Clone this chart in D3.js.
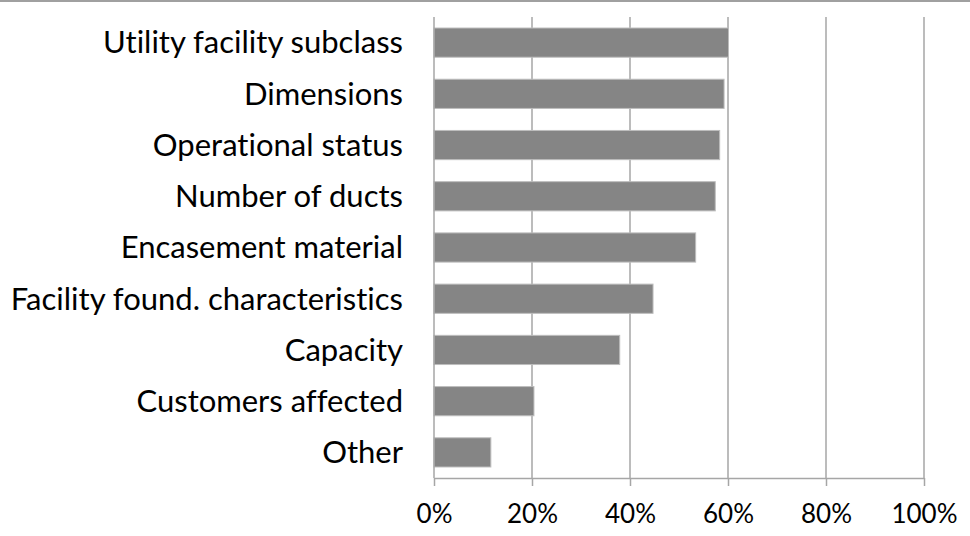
<!DOCTYPE html>
<html>
<head>
<meta charset="utf-8">
<script src="https://cdn.jsdelivr.net/npm/d3@7"></script>
<style>
  body { margin: 0; background: #fff; }
  svg text { font-family: Lato, "Open Sans", sans-serif; fill: #000; font-variant-ligatures: none; font-feature-settings: "liga" 0; }
</style>
</head>
<body>
<div id="chart"></div>
<script>
// données
const categories = ["Utility facility subclass", "Dimensions", "Operational status", "Number of ducts",
  "Encasement material", "Facility found. characteristics", "Capacity", "Customers affected", "Other"];
const values = [60.1, 59.2, 58.3, 57.4, 53.4, 44.7, 37.9, 20.4, 11.6];
const ticks = [0, 20, 40, 60, 80, 100];

const width = 970, height = 536;
const margin = {top: 17, right: 46, bottom: 58, left: 434};

const svg = d3.select("#chart").append("svg")
  .attr("width", width)
  .attr("height", height);

// ligne grise en haut
svg.append("line")
  .attr("x1", 0).attr("x2", width)
  .attr("y1", 1).attr("y2", 1)
  .style("stroke", "#a0a0a0").style("stroke-width", 2);

const x = d3.scaleLinear().domain([0, 100]).range([margin.left, width - margin.right]);
const y = d3.scaleBand().domain(categories).range([margin.top, height - margin.bottom]).paddingInner(0.43).paddingOuter(0.215);

// grille verticale
svg.append("g").selectAll("line")
  .data(ticks.slice(1))
  .enter().append("line")
  .attr("x1", d => x(d)).attr("x2", d => x(d))
  .attr("y1", margin.top).attr("y2", height - margin.bottom)
  .style("stroke", "#a6a6a6").style("stroke-width", 1.5);

// barres
svg.append("g").selectAll("rect")
  .data(values)
  .enter().append("rect")
  .attr("x", x(0))
  .attr("y", (d, i) => y(categories[i]))
  .attr("width", d => x(d) - x(0))
  .attr("height", y.bandwidth())
  .style("fill", "#858585")
  .style("stroke", "#bdbdbd")
  .style("stroke-width", 1);

// axe y (ligne + libellés)
const yAxis = svg.append("g")
  .attr("transform", `translate(${margin.left},0)`)
  .call(d3.axisLeft(y).tickSize(0).tickPadding(31));
yAxis.select(".domain").remove();
yAxis.append("line")
  .attr("x1", 0).attr("x2", 0)
  .attr("y1", margin.top).attr("y2", height - margin.bottom)
  .style("stroke", "#a6a6a6").style("stroke-width", 1.5);
yAxis.selectAll("text")
  .style("font-size", "31px")
  .attr("dy", "0.35em");

// axe x
const xAxis = svg.append("g")
  .attr("transform", `translate(0,${height - margin.bottom})`)
  .call(d3.axisBottom(x).tickValues(ticks).tickFormat(d => d + "%").tickSize(8).tickPadding(19).tickSizeOuter(0));
xAxis.select(".domain").style("stroke", "#a6a6a6").style("stroke-width", 1.5);
xAxis.selectAll(".tick line").style("stroke", "#a6a6a6").style("stroke-width", 1.5);
xAxis.selectAll("text").style("font-size", "26px");
</script>
</body>
</html>
